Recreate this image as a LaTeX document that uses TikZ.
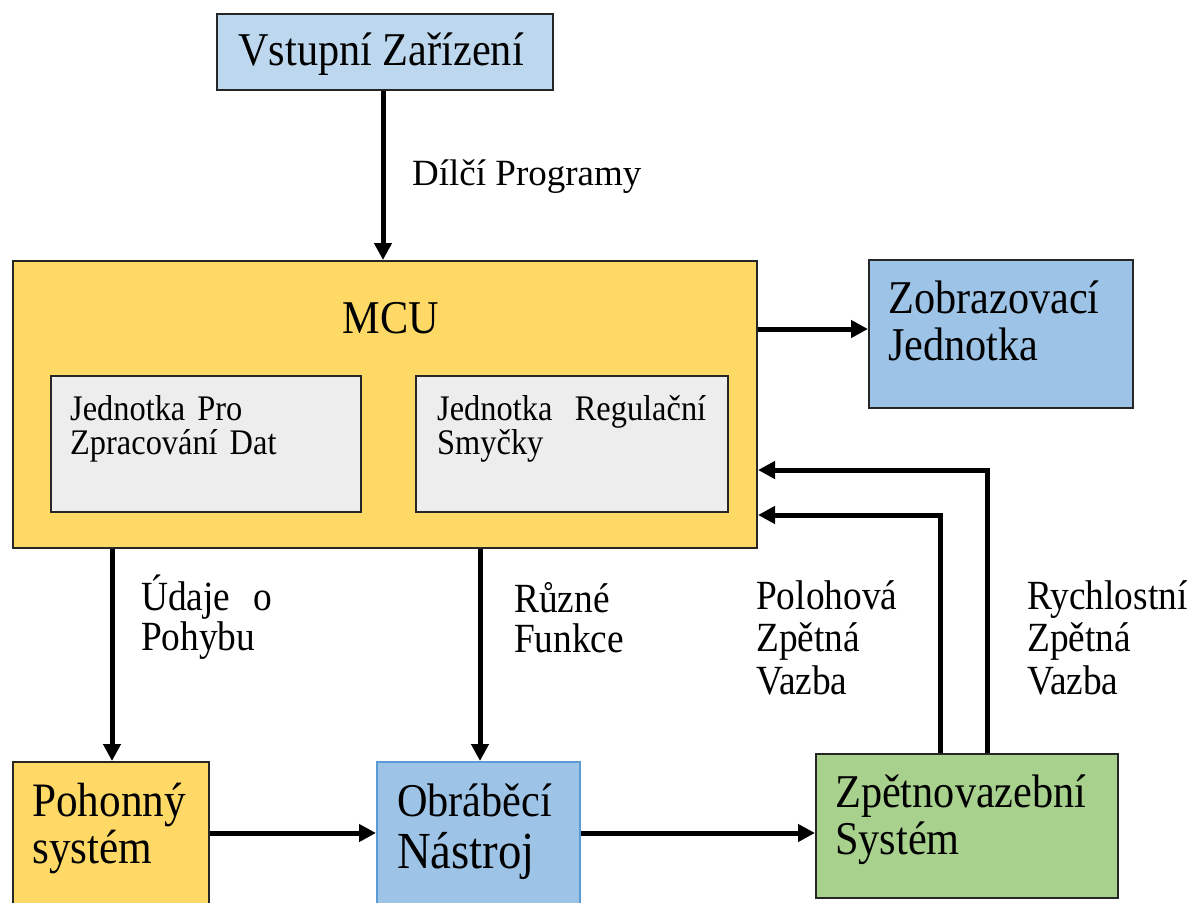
\documentclass[tikz,border=0pt]{standalone}
\usepackage{fontspec}
\setmainfont[FakeStretch=0.9]{Liberation Serif}
\newfontfamily\plainserif{Liberation Serif}
\usetikzlibrary{arrows.meta}
\definecolor{inblue}{HTML}{BDD7EE}
\definecolor{myyellow}{HTML}{FFD966}
\definecolor{mygray}{HTML}{EDEDED}
\definecolor{myblue}{HTML}{9DC3E6}
\definecolor{blueedge}{HTML}{5B9BD5}
\definecolor{mygreen}{HTML}{A9D18E}
\definecolor{edge}{HTML}{262626}
\tikzset{
  box/.style={draw=edge, line width=2pt, anchor=north west, inner sep=0pt, minimum width=#1},
  txt/.style={anchor=base west, inner sep=0pt, align=left},
  flow/.style={line width=5pt, -{Triangle[length=17pt,width=17pt]}},
}
\begin{document}
\begin{tikzpicture}[x=1pt,y=-1pt]
\useasboundingbox (0,0) rectangle (1191,902);
\clip (0,0) rectangle (1191,902);
% boxes
\node[box=336pt, fill=inblue, minimum height=76pt] (in) at (216,13) {};
\node[box=744pt, fill=myyellow, minimum height=287pt] (mcu) at (12,260) {};
\node[box=310pt, fill=mygray, minimum height=136pt] (dp) at (50,375) {};
\node[box=312pt, fill=mygray, minimum height=136pt] (rs) at (415,375) {};
\node[box=264pt, fill=myblue, minimum height=148pt] (disp) at (868,259) {};
\node[box=196pt, fill=myyellow, minimum height=160pt] (drive) at (12,761) {};
\node[box=203pt, fill=myblue, draw=blueedge, minimum height=160pt] (tool) at (376,761) {};
\node[box=302pt, fill=mygreen, minimum height=144pt] (fb) at (815,753) {};
% texts
\node[anchor=base, inner sep=0pt, font=\fontsize{47}{47}\selectfont] (inT) at (381,65) {Vstupní Zařízení};
\node[anchor=base, inner sep=0pt, font=\fontsize{47}{47}\selectfont] (mcuT) at (391,333) {MCU};
\node[txt, text width=260pt, font=\fontsize{36}{34}\selectfont] (dpT) at (70,420) {Jednotka Pro\\Zpracování Dat};
\node[txt, text width=269pt, font=\fontsize{36}{34}\selectfont] (rsT) at (437,420) {Jednotka\hfill Regulační\\Smyčky};
\node[txt, text width=240pt, font=\fontsize{47}{47}\selectfont] (dispT) at (888,313) {Zobrazovací\\Jednotka};
\node[txt, text width=170pt, font=\fontsize{48}{47}\selectfont] (driveT) at (32,816) {Pohonný\\systém};
\node[txt, text width=180pt, font=\fontsize{47}{52}\selectfont] (toolT) at (397,816) {Obráběcí\\{\fontsize{52}{52}\selectfont Nástroj}};
\node[txt, text width=280pt, font=\fontsize{47}{47}\selectfont] (fbT) at (835,807) {Zpětnovazební\\Systém};
% labels
\node[txt, font=\plainserif\fontsize{37}{40}\selectfont] (l1) at (412,185) {Dílčí Programy};
\node[txt, text width=131pt, font=\fontsize{41.5}{40}\selectfont] (l2) at (141,610) {Údaje\hfill o\\Pohybu};
\node[txt, text width=140pt, font=\fontsize{41.5}{40}\selectfont] (l3) at (514,612) {Různé\\Funkce};
\node[txt, text width=160pt, font=\fontsize{41.5}{42.5}\selectfont] (l4) at (756,609) {Polohová\\Zpětná\\Vazba};
\node[txt, text width=164pt, font=\fontsize{41.5}{42.5}\selectfont] (l5) at (1027,609) {Rychlostní\\Zpětná\\Vazba};
% connectors
\draw[flow] (in.south -| 383,0) -- (mcu.north -| 383,0);
\draw[flow] (mcu.east |- 0,329) -- (disp.west |- 0,329);
\draw[flow] (mcu.south -| 112,0) -- (drive.north -| 112,0);
\draw[flow] (mcu.south -| 480,0) -- (tool.north -| 480,0);
\draw[flow] (drive.east |- 0,833) -- (tool.west |- 0,833);
\draw[flow] (tool.east |- 0,833) -- (fb.west |- 0,833);
\draw[flow] (fb.north -| 940,0) -- (940,515) -- (mcu.east |- 0,515);
\draw[flow] (fb.north -| 987,0) -- (987,470) -- (mcu.east |- 0,470);
\end{tikzpicture}
\end{document}
